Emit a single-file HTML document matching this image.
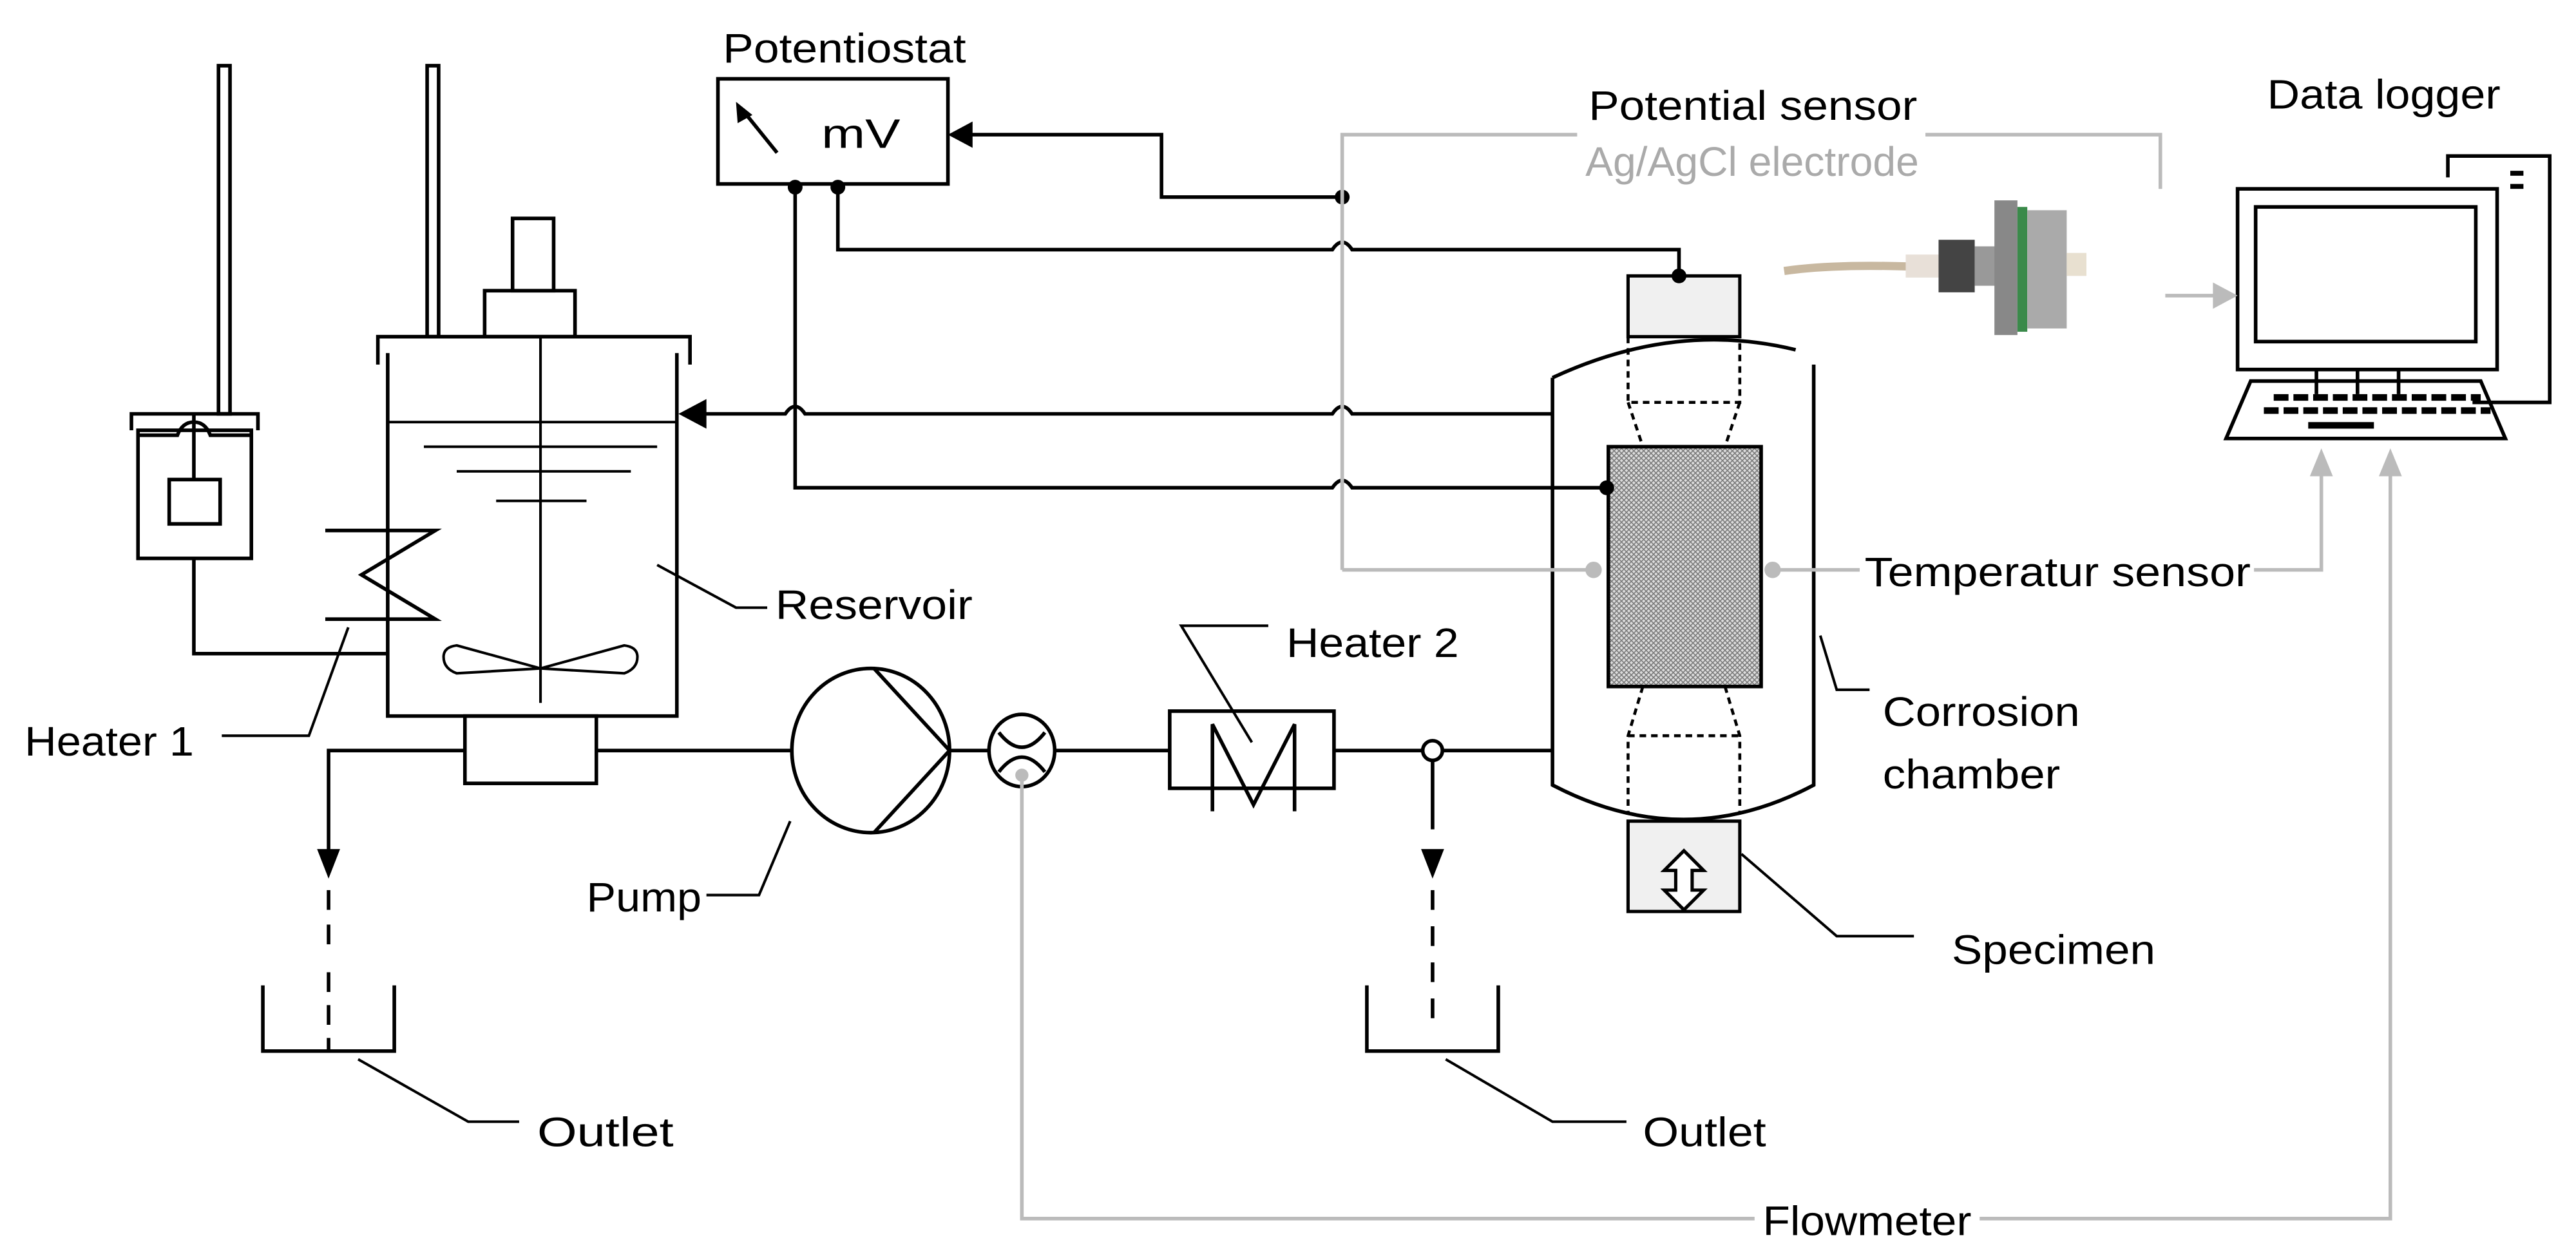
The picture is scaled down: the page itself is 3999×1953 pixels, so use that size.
<!DOCTYPE html>
<html><head><style>html,body{margin:0;padding:0;background:#fff}svg{display:block}</style></head>
<body>
<svg width="3999" height="1953" viewBox="0 0 1568 766" preserveAspectRatio="none" xmlns="http://www.w3.org/2000/svg" font-family="Liberation Sans, sans-serif" font-size="25">
<defs>
<pattern id="h" width="3" height="3" patternUnits="userSpaceOnUse"><rect width="3" height="3" fill="#ddd"/><path d="M0 0L3 3M3 0L0 3" stroke="#777" stroke-width="0.6"/></pattern>
</defs>
<g fill="none" stroke="#000" stroke-width="2.2">
<rect x="133" y="40" width="7" height="212"/>
<rect x="260" y="40" width="7" height="165"/>
<path d="M80 262V252H157V262"/>
<rect x="84" y="262" width="69" height="78"/>
<path d="M84 265H108Q111 257 118 257Q125 257 128 265H153"/>
<path d="M118 252V292"/>
<rect x="103" y="292" width="31" height="27"/>
<path d="M118 340V398H235"/>
<path d="M230 222V205H420V222"/>
<path d="M236 215V436H412V215"/>
<rect x="295" y="177" width="55" height="28"/>
<rect x="312" y="133" width="25" height="44"/>
<path d="M236 257H412" stroke-width="1.6"/>
<path d="M258 272H400M278 287H384M302 305H357" stroke-width="1.6"/>
<path d="M329 205V428" stroke-width="1.6"/>
<path d="M329 407L278 393Q270 394 270 400Q270 407 278 410ZM329 407L380 393Q388 394 388 400Q388 407 380 410Z" stroke-width="1.6"/>
<path d="M198 323H265L220 350L265 377H198"/>
<rect x="283" y="436" width="80" height="41"/>
<path d="M200 525V457H283M363 457H482M578 457H602M642 457H712M812 457H866M878 457H945"/>
<ellipse cx="530" cy="457" rx="48" ry="50"/>
<path d="M532 407L578 457L532 507"/>
<ellipse cx="622" cy="457" rx="20" ry="22"/>
<path d="M608 446Q615 455 622 455Q629 455 636 446M608 470Q615 461 622 461Q629 461 636 470"/>
<rect x="712" y="433" width="100" height="47"/>
<path d="M738 494V441L763 490L788 441V494"/>
<circle cx="872" cy="457" r="6"/>
<path d="M872 463V505"/>
<path d="M200 542V555M200 563V580M200 592V640" stroke-dasharray="12 8"/>
<path d="M872 542V630" stroke-dasharray="12 10"/>
<path d="M160 600V640H240V600"/>
<path d="M832 600V640H912V600"/>
<rect x="437" y="48" width="140" height="64"/>
<path d="M473 93L452 67"/>
<path d="M590 82H707V120H817"/>
<path d="M510 114V152H811Q817 143 823 152H1022V168"/>
<path d="M484 114V297H811Q817 288 823 297H978"/>
<path d="M945 252H823Q817 243 811 252H490Q484 243 478 252H428"/>
<path d="M945 230V478Q1025 520 1104 478V222"/>
<path d="M945 230Q1020 195 1093 213"/>
<path d="M991 205V245H1059V205M991 245L1000 272M1059 245L1050 272M1000 418L991 448V495M1050 418L1059 448V495M991 448H1059" stroke-dasharray="4 3" stroke-width="1.8"/>
<path d="M135 448H188L212 382" stroke-width="1.6"/>
<path d="M400 344L448 370H467" stroke-width="1.6"/>
<path d="M430 545H462L481 500" stroke-width="1.6"/>
<path d="M772 381H719L762 452" stroke-width="1.6"/>
<path d="M1108 387L1118 420H1138" stroke-width="1.6"/>
<path d="M1060 520L1118 570H1165" stroke-width="1.6"/>
<path d="M218 645L285 683H316" stroke-width="1.6"/>
<path d="M880 645L945 683H990" stroke-width="1.6"/>
<path d="M1490 108V95H1552V245H1505"/>
<rect x="1362" y="115" width="158" height="110"/>
<rect x="1373" y="126" width="134" height="82"/>
<path d="M1410 225V240M1435 225V240M1460 225V240"/>
<path d="M1370 232H1510L1525 267H1355Z"/>
</g>
<rect x="1528" y="104" width="8" height="3"/><rect x="1528" y="112" width="8" height="3"/>
<g stroke="#000" stroke-width="4" stroke-dasharray="9 3" fill="none">
<path d="M1384 242H1510M1378 250H1516"/>
</g>
<rect x="1405" y="257" width="40" height="4"/>
<rect x="979" y="272" width="93" height="146" fill="url(#h)" stroke="#000" stroke-width="2.2"/>
<rect x="991" y="168" width="68" height="37" fill="#f0f0f0" stroke="#000" stroke-width="2"/>
<rect x="991" y="500" width="68" height="55" fill="#f0f0f0" stroke="#000" stroke-width="2"/>
<path d="M1025 518L1013 530H1020V542H1013L1025 554L1037 542H1030V530H1037Z" fill="#fff" stroke="#000" stroke-width="2"/>
<g fill="#000">
<path d="M577 82L592 74V90Z"/>
<path d="M413 252L430 243V261Z"/>
<path d="M448 62L449 75L458 70Z"/>
<path d="M193 517H207L200 535Z"/>
<path d="M865 517H879L872 535Z"/>
<circle cx="484" cy="114" r="4.5"/><circle cx="510" cy="114" r="4.5"/>
<circle cx="817" cy="120" r="4.5"/><circle cx="1022" cy="168" r="4.5"/><circle cx="978" cy="297" r="4.5"/>
</g>
<g fill="none" stroke="#bbb" stroke-width="2.2">
<path d="M817 347V82H960M1172 82H1315V115"/>
<path d="M817 347H970M1079 347H1132M1372 347H1413V285"/>
<path d="M622 470V742H1068M1205 742H1455V285"/>
<path d="M1318 180H1350"/>
</g>
<g fill="#bbb">
<circle cx="970" cy="347" r="5"/><circle cx="1079" cy="347" r="5"/><circle cx="622" cy="472" r="4"/>
<path d="M1413 273L1406 290H1420Z"/><path d="M1455 273L1448 290H1462Z"/><path d="M1362 180L1347 172V188Z"/>
</g>
<path d="M1086 165Q1120 160 1180 163" stroke="#c8b8a0" stroke-width="5" fill="none"/>
<rect x="1160" y="155" width="20" height="14" fill="#e8e0d8"/>
<rect x="1180" y="146" width="22" height="32" fill="#444"/>
<rect x="1202" y="150" width="14" height="24" fill="#999"/>
<rect x="1214" y="122" width="14" height="82" fill="#888"/>
<rect x="1228" y="126" width="6" height="76" fill="#3a8a4a"/>
<rect x="1234" y="128" width="24" height="72" fill="#aaa"/>
<rect x="1258" y="154" width="12" height="14" fill="#e8e0d0"/>
<g fill="#000" lengthAdjust="spacingAndGlyphs">
<text x="440" y="38" textLength="148" lengthAdjust="spacingAndGlyphs">Potentiostat</text>
<text x="500" y="90" textLength="48" lengthAdjust="spacingAndGlyphs">mV</text>
<text x="967" y="73" textLength="200" lengthAdjust="spacingAndGlyphs">Potential sensor</text>
<text x="965" y="107" fill="#aaa" textLength="203" lengthAdjust="spacingAndGlyphs">Ag/AgCl electrode</text>
<text x="1380" y="66" textLength="142" lengthAdjust="spacingAndGlyphs">Data logger</text>
<text x="1135" y="357" textLength="235" lengthAdjust="spacingAndGlyphs">Temperatur sensor</text>
<text x="472" y="377" textLength="120" lengthAdjust="spacingAndGlyphs">Reservoir</text>
<text x="15" y="460" textLength="103" lengthAdjust="spacingAndGlyphs">Heater 1</text>
<text x="783" y="400" textLength="105" lengthAdjust="spacingAndGlyphs">Heater 2</text>
<text x="1146" y="442" textLength="120" lengthAdjust="spacingAndGlyphs">Corrosion</text>
<text x="1146" y="480" textLength="108" lengthAdjust="spacingAndGlyphs">chamber</text>
<text x="357" y="555" textLength="70" lengthAdjust="spacingAndGlyphs">Pump</text>
<text x="1188" y="587" textLength="124" lengthAdjust="spacingAndGlyphs">Specimen</text>
<text x="327" y="698" textLength="83" lengthAdjust="spacingAndGlyphs">Outlet</text>
<text x="1000" y="698" textLength="75" lengthAdjust="spacingAndGlyphs">Outlet</text>
<text x="1073" y="752" textLength="127" lengthAdjust="spacingAndGlyphs">Flowmeter</text>
</g>
</svg>
</body></html>
